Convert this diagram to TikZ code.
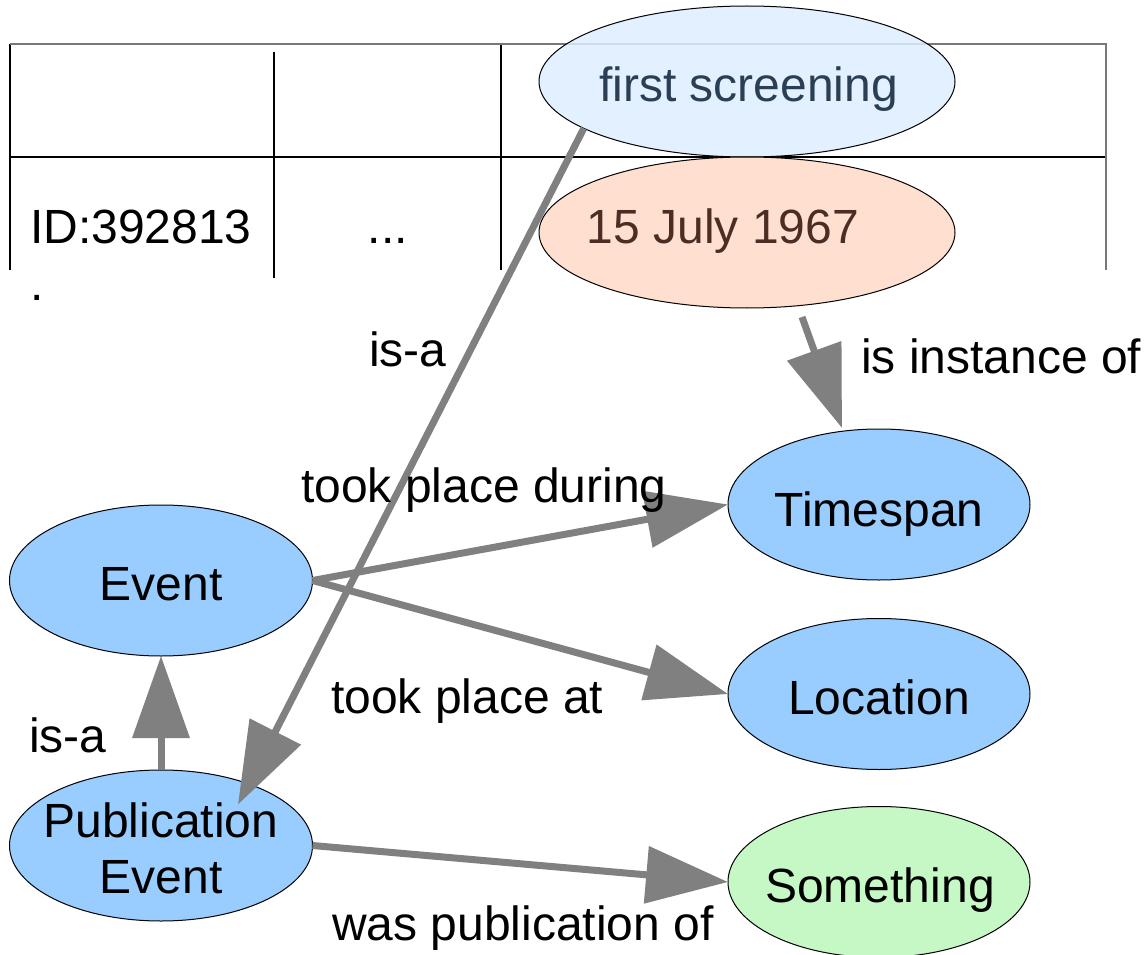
\documentclass[tikz,border=0pt]{standalone}
\usepackage{fontspec}
\setmainfont{Liberation Sans}
\usetikzlibrary{shapes.geometric,arrows.meta}
\definecolor{nodeblue}{RGB}{153,204,255}
\definecolor{nodegreen}{RGB}{198,248,198}
\definecolor{screenfill}{RGB}{221,237,255}
\definecolor{screentext}{RGB}{42,62,84}
\definecolor{datefill}{RGB}{255,224,208}
\definecolor{datetext}{RGB}{75,45,35}
\definecolor{arrowgrey}{RGB}{128,128,128}
\definecolor{rulegrey}{RGB}{120,120,120}

\begin{document}
\begin{tikzpicture}[x=1pt,y=-1pt,
  font=\fontsize{48pt}{56pt}\selectfont,
  blob/.style={ellipse, draw=black, line width=1pt, inner sep=0pt, outer sep=0pt, minimum height=151pt},
  rightcol/.style={blob, minimum width=302pt},
  leftcol/.style={blob, minimum width=303pt},
  topcol/.style={blob, minimum width=416pt},
  rel/.style={draw=arrowgrey, line width=7pt, -{Triangle[length=82pt,width=56pt]}},
  lbl/.style={inner sep=0pt, anchor=base west},
  ctext/.style={inner sep=0pt, anchor=base},
  cell/.style={line width=1.2pt}
]
\useasboundingbox (0,0) rectangle (1144,955);

% table grid
\draw[cell, black] (10,44) -- (10,270);
\draw[cell, black] (10,157) -- (1106,157);
\draw[cell, black] (274,52) -- (274,278);
\draw[cell, black] (501,44) -- (501,270);
\draw[cell, rulegrey] (10,44) -- (1106,44) -- (1106,270);

% table cells
\node[lbl] (idcell) at (30,243) {ID:392813};
\node[lbl] (iddot) at (30,300) {.};
\node[ctext] (dots) at (388,243) {...};

% ellipses
\node[topcol, fill=screenfill, fill opacity=0.85] (screen) at (747,81.5) {};
\node[topcol, fill=datefill] (july) at (747,232.5) {};
\node[rightcol, fill=nodeblue] (time) at (879,504.5) {};
\node[rightcol, fill=nodeblue] (loc) at (879,694) {};
\node[rightcol, fill=nodegreen] (some) at (879,882) {};
\node[leftcol, fill=nodeblue] (event) at (161,580.5) {};
\node[leftcol, fill=nodeblue] (pub) at (161,845.5) {};

% connectors
\draw[rel] ([shift={(55,84.5)}]july.center) -- ([shift={(-37,-76.5)}]time.center);
\draw[rel] (event.east) -- (time.west);
\draw[rel] (event.east) -- (loc.west);
\draw[rel] (pub.east) -- (some.west);
\draw[rel] (pub.north) -- (event.south);
\draw[rel] (screen.196) -- ([shift={(77,-41)}]pub.center);

% ellipse texts
\node[ctext, text=screentext] (screentxt) at (748.5,102) {first screening};
\node[ctext, text=datetext] (julytxt) at (723,243) {15 July 1967};
\node[ctext] (timetxt) at (879,526) {Timespan};
\node[ctext] (loctxt) at (879,714) {Location};
\node[ctext] (sometxt) at (880,902) {Something};
\node[ctext] (eventtxt) at (161,600) {Event};
\node[ctext] (pubtxta) at (161,837) {Publication};
\node[ctext] (pubtxtb) at (161,893) {Event};

% connector labels
\node[lbl] (isatop) at (369,366) {is-a};
\node[lbl] (instof) at (861,373) {is instance of};
\node[lbl] (during) at (301,502) {took place during};
\node[lbl] (placeat) at (331,713) {took place at};
\node[lbl] (isalow) at (29,752) {is-a};
\node[lbl] (pubof) at (332,940) {was publication of};
\end{tikzpicture}
\end{document}
